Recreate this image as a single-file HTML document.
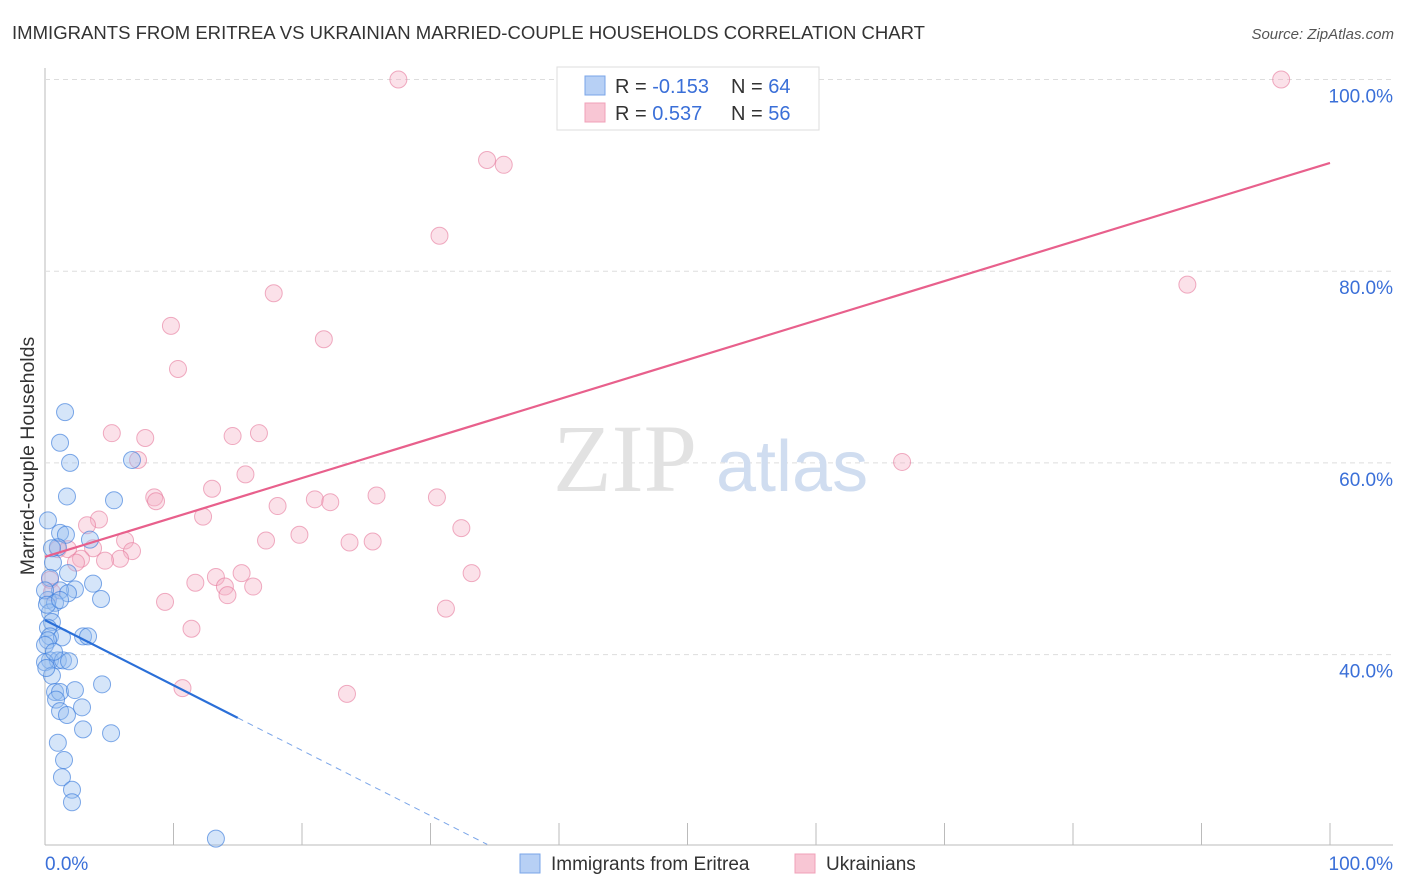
<!DOCTYPE html>
<html><head><meta charset="utf-8"><style>
body{margin:0;background:#fff;font-family:"Liberation Sans",sans-serif;}
svg{display:block}
</style></head><body>
<svg id="chart" width="1406" height="892">
<text x="12" y="39" font-size="18.5" fill="#333" textLength="913" lengthAdjust="spacingAndGlyphs">IMMIGRANTS FROM ERITREA VS UKRAINIAN MARRIED-COUPLE HOUSEHOLDS CORRELATION CHART</text>
<text x="1394" y="39" font-size="15" fill="#555" font-style="italic" text-anchor="end">Source: ZipAtlas.com</text>
<text x="0" y="0" transform="translate(34,456) rotate(-90)" font-size="19.5" fill="#333" text-anchor="middle">Married-couple Households</text>
<g id="grid"></g>
<g><text x="553" y="491" font-size="96" font-family="Liberation Serif,serif" fill="#e2e2e2">ZIP</text><text x="716" y="491" font-size="72" fill="#d0ddf0">atlas</text></g>
<g id="pts"></g>
<g id="lines"></g>
<g>
<rect x="557" y="67" width="262" height="63" fill="#fff" stroke="#ddd"/>
<rect x="585" y="76" width="20" height="19" fill="#b7d0f5" stroke="#7aa5e8"/>
<rect x="585" y="103" width="20" height="19" fill="#f8c6d4" stroke="#f0a0b8"/>
<text x="615" y="93" font-size="20" fill="#333">R = <tspan fill="#3a6fd8">-0.153</tspan></text>
<text x="731" y="93" font-size="20" fill="#333">N = <tspan fill="#3a6fd8">64</tspan></text>
<text x="615" y="120" font-size="20" fill="#333">R = <tspan fill="#3a6fd8"> 0.537</tspan></text>
<text x="731" y="120" font-size="20" fill="#333">N = <tspan fill="#3a6fd8">56</tspan></text>
</g>
<g>
<rect x="520" y="854" width="20" height="19" fill="#b7d0f5" stroke="#7aa5e8"/>
<text x="551" y="870" font-size="19" fill="#333">Immigrants from Eritrea</text>
<rect x="795" y="854" width="20" height="19" fill="#f8c6d4" stroke="#f0a0b8"/>
<text x="826" y="870" font-size="19" fill="#333">Ukrainians</text>
</g>
</svg>
<script>
const xTicks=[0,10,20,30,40,50,60,70,80,90,100];
const yTicks=[40,60,80,100];
const yTickLabels=["40.0%","60.0%","80.0%","100.0%"];
const blueX=[1.56,1.17,1.95,1.71,5.37,6.77,1.17,1.63,1.0,3.5,0.62,1.79,0.39,3.74,2.33,1.17,1.79,4.36,0.23,0.78,0.39,0.54,0.23,0.39,1.32,2.96,3.35,0.23,0.39,1.0,1.4,1.87,0,0.54,0.78,1.17,2.33,4.44,0.86,1.17,1.71,2.88,2.96,5.14,1.0,1.48,1.32,2.1,2.1,13.3,0.23,0.54,0,0.15,0,0.1,0.7,1.17];
const blueY=[65.3,62.1,60.0,56.5,56.1,60.3,52.7,52.5,51.2,52.0,49.6,48.5,48.0,47.4,46.8,46.7,46.4,45.8,45.7,45.4,44.4,43.4,42.8,41.9,41.8,41.9,41.9,41.5,39.4,39.4,39.4,39.3,39.2,37.8,36.1,36.1,36.3,36.9,35.3,34.1,33.7,34.5,32.2,31.8,30.8,29.0,27.2,25.9,24.6,20.8,54.0,51.1,46.7,45.2,41.0,38.6,40.3,45.7];
const pinkX=[27.5,96.2,34.4,35.7,30.7,88.9,17.8,9.8,21.7,10.35,5.2,7.8,16.65,14.6,7.24,66.7,15.6,13.0,8.5,8.64,25.8,30.5,21.0,22.2,18.1,12.3,4.2,3.27,32.4,19.8,23.7,25.5,17.2,6.23,6.77,3.74,1.0,1.79,5.84,4.67,2.8,2.41,15.3,13.3,33.2,11.7,14.0,16.2,14.2,9.34,31.2,0.39,0.54,11.4,10.7,23.5];
const pinkY=[100,100,91.6,91.1,83.7,78.6,77.7,74.3,72.9,69.8,63.1,62.6,63.1,62.8,60.3,60.1,58.8,57.3,56.4,56.0,56.6,56.4,56.2,55.9,55.5,54.4,54.1,53.5,53.2,52.5,51.7,51.8,51.9,51.9,50.8,51.1,51.0,51.0,50.0,49.8,50.0,49.6,48.5,48.1,48.5,47.5,47.1,47.1,46.2,45.5,44.8,47.8,46.5,42.7,36.5,35.9];
const pinkTrend=[50.2,91.3];
const blueTrend=[43.6,-0.68];
const X=v=>45+v*12.85, Y=v=>79.5+(100-v)*9.585;
const NS="http://www.w3.org/2000/svg";
function mk(tag,at,parent){const e=document.createElementNS(NS,tag);for(const k in at)e.setAttribute(k,at[k]);document.getElementById(parent).appendChild(e);return e;}
const g='grid';
let ax=mk('line',{x1:45,y1:68,x2:45,y2:845,stroke:'#bbb'},g);


let bx=mk('line',{x1:45,y1:845,x2:1393,y2:845,stroke:'#bbb'},g);


yTicks.forEach((t,i)=>{
 let l=mk('line',{x1:45,x2:1393,y1:Y(t),y2:Y(t),stroke:'#ddd','stroke-dasharray':'5,4'},g);
 
 
 let tx=mk('text',{x:1393,y:Y(t)+23,'text-anchor':'end','font-size':19,fill:'#3a6fd8'},g);
 tx.textContent=yTickLabels[i];
 
 
});
xTicks.forEach(t=>{
 if(t===0)return;
 let l=mk('line',{x1:X(t),x2:X(t),y1:823,y2:845,stroke:'#bbb'},g);
 
 
});
let x0=mk('text',{x:45,y:870,'font-size':19,fill:'#3a6fd8'},g);x0.textContent='0.0%';


let x1=mk('text',{x:1393,y:870,'font-size':19,fill:'#3a6fd8','text-anchor':'end'},g);x1.textContent='100.0%';


pinkX.forEach((v,i)=>{
 let c=mk('circle',{cx:X(v),cy:Y(pinkY[i]),r:8.5,fill:'rgba(245,175,198,0.38)',stroke:'rgba(230,120,155,0.6)','stroke-width':1},'pts');
 
 
});
blueX.forEach((v,i)=>{
 let c=mk('circle',{cx:X(v),cy:Y(blueY[i]),r:8.5,fill:'rgba(150,190,240,0.4)',stroke:'rgba(60,125,220,0.65)','stroke-width':1},'pts');
 
 
});
let pl=mk('line',{x1:X(0),y1:Y(pinkTrend[0]),x2:X(100),y2:Y(pinkTrend[1]),stroke:'#e8608c','stroke-width':2.2},'lines');


const bEnd=15, bDash=(20.2-blueTrend[0])/blueTrend[1];
let bl=mk('line',{x1:X(0),y1:Y(blueTrend[0]),x2:X(bEnd),y2:Y(blueTrend[0]+blueTrend[1]*bEnd),stroke:'#2a6fd8','stroke-width':2.2},'lines');


let bd=mk('line',{x1:X(bEnd),y1:Y(blueTrend[0]+blueTrend[1]*bEnd),x2:X(bDash),y2:Y(blueTrend[0]+blueTrend[1]*bDash),stroke:'#7aa5e8','stroke-width':1,'stroke-dasharray':'6,5'},'lines');


</script>
</body></html>
